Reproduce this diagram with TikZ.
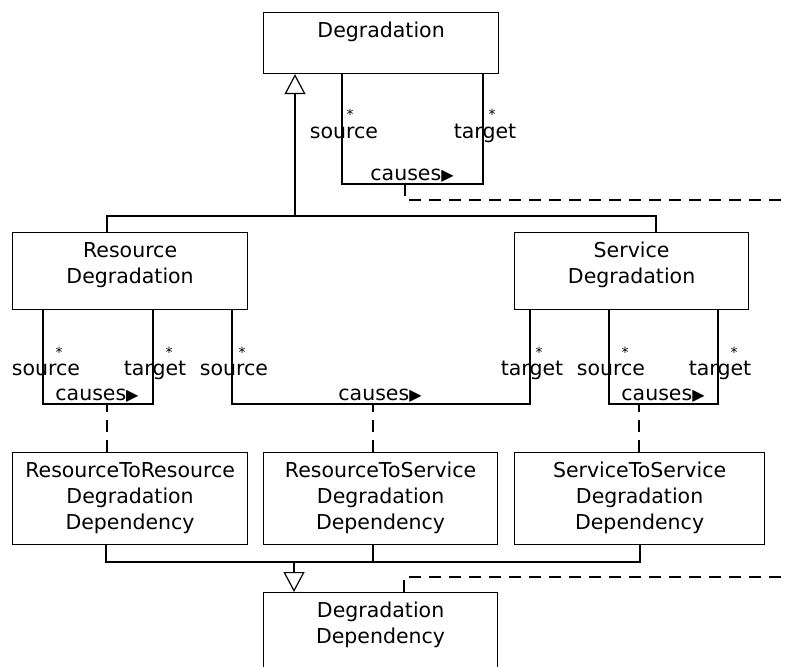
\documentclass[tikz,border=0pt]{standalone}
\usepackage{fontspec}
\setmainfont{DejaVu Sans}
\usetikzlibrary{arrows.meta}

\newcommand{\readdir}{{\fontsize{16}{16}\selectfont ▶}}

\tikzset{
    umlclass/.style={draw, line width=1.2pt, inner sep=0pt, anchor=north west},
    classname/.style={anchor=north, inner sep=0pt, align=center, yshift=-10pt},
    rolename/.style={anchor=base, inner sep=0pt},
    multiplicity/.style={anchor=base, inner sep=0pt, font=\fontsize{14}{14}\selectfont},
    assocname/.style={anchor=base, inner sep=0pt},
    assocline/.style={line width=1.2pt},
    assocclass/.style={line width=1.2pt, dash pattern=on 12pt off 8pt},
    inherits/.style={line width=1.2pt, -{Triangle[open, width=21pt, length=20pt]}}
}

\begin{document}
\begin{tikzpicture}[x=1pt, y=-1pt, font=\fontsize{20.5}{26}\selectfont]
    \useasboundingbox (0, 0) rectangle (786, 666);
    \clip (0, 0) rectangle (786, 666);

    % Classes
    \node[umlclass, minimum width=235pt, minimum height=61pt] (deg) at (263, 12) {};
    \node[classname] (deg-name) at (deg.north) {Degradation};

    \node[umlclass, minimum width=235pt, minimum height=77pt] (resdeg) at (12, 232) {};
    \node[classname] (resdeg-name) at (resdeg.north) {Resource\\Degradation};

    \node[umlclass, minimum width=234pt, minimum height=77pt] (srvdeg) at (514, 232) {};
    \node[classname] (srvdeg-name) at (srvdeg.north) {Service\\Degradation};

    \node[umlclass, minimum width=235pt, minimum height=92pt] (r2r) at (12, 452) {};
    \node[classname] (r2r-name) at (r2r.north) {ResourceToResource\\Degradation\\Dependency};

    \node[umlclass, minimum width=234pt, minimum height=92pt] (r2s) at (263, 452) {};
    \node[classname] (r2s-name) at (r2s.north) {ResourceToService\\Degradation\\Dependency};

    \node[umlclass, minimum width=250pt, minimum height=92pt] (s2s) at (514, 452) {};
    \node[classname] (s2s-name) at (s2s.north) {ServiceToService\\Degradation\\Dependency};

    \node[umlclass, minimum width=234pt, minimum height=100pt] (depdeg) at (263, 592) {};
    \node[classname] (depdeg-name) at (depdeg.north) {Degradation\\Dependency};

    % Inheritance from Degradation
    \coordinate (gsplit) at (295, 216);
    \coordinate (gleft) at (107, 216);
    \coordinate (gright) at (656, 216);
    \draw[inherits] (gsplit) -- (gsplit |- deg.south);
    \draw[assocline] (resdeg.north -| gleft) |- (gright) -- (srvdeg.north -| gright);

    % Inheritance from DegradationDependency
    \coordinate (hsplit) at (294, 562);
    \coordinate (hleft) at (106, 562);
    \coordinate (hmid) at (373, 562);
    \coordinate (hright) at (640, 562);
    \draw[assocline] (r2r.south -| hleft) |- (hright) -- (s2s.south -| hright);
    \draw[assocline] (r2s.south -| hmid) -- (hmid);
    \draw[inherits] (hsplit) -- (hsplit |- depdeg.north);

    % Associations "causes"
    \coordinate (c0) at (405, 184);
    \coordinate (c1) at (107, 404);
    \coordinate (c2) at (373, 404);
    \coordinate (c3) at (639, 404);
    \draw[assocline] (deg.south -| 342,0) |- (c0) -| (deg.south -| 483,0);
    \draw[assocline] (resdeg.south -| 43,0) |- (c1) -| (resdeg.south -| 153,0);
    \draw[assocline] (resdeg.south -| 232,0) |- (c2) -| (srvdeg.south -| 530,0);
    \draw[assocline] (srvdeg.south -| 609,0) |- (c3) -| (srvdeg.south -| 718,0);

    % Association classes (dashed)
    \coordinate (e0) at (786, 200);
    \coordinate (c4) at (404, 577);
    \coordinate (e4) at (786, 577);
    \draw[assocclass] (c0) |- (e0);
    \draw[assocclass] (r2r.north -| c1) -- (c1);
    \draw[assocclass] (r2s.north -| c2) -- (c2);
    \draw[assocclass] (s2s.north -| c3) -- (c3);
    \draw[assocclass] (depdeg.north -| c4) |- (e4);

    % Role names and multiplicities
    \foreach \x/\y/\t [count=\i] in {344/138/source, 485/138/target,
            46/375/source, 155/375/target, 234/375/source, 532/375/target,
            611/375/source, 720/375/target} {
        \node[rolename] (role-\i) at (\x, \y) {\t};
    }
    \foreach \x/\y [count=\i] in {350/120, 492/120, 59/357, 169/357,
            242/357, 539/357, 625/357, 734/357} {
        \node[multiplicity] (mult-\i) at (\x, \y) {*};
    }

    % Association names
    \foreach \x/\y [count=\i] in {412/180, 97/400, 380/400, 663/400} {
        \node[assocname] (causes-\i) at (\x, \y) {causes\readdir};
    }
\end{tikzpicture}
\end{document}
